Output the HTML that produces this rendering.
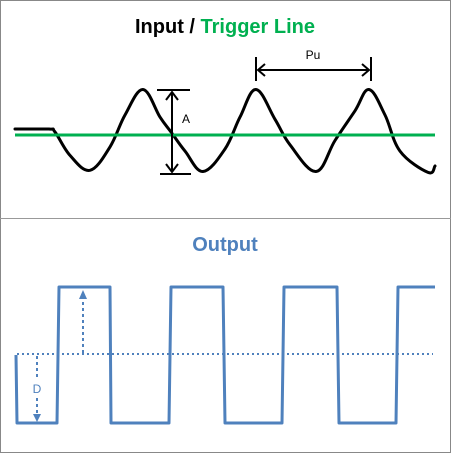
<!DOCTYPE html>
<html><head><meta charset="utf-8"><style>
html,body{margin:0;padding:0;background:#fff;}
svg{display:block;font-family:"Liberation Sans",Calibri,sans-serif;}
</style></head><body>
<svg width="451" height="453" viewBox="0 0 451 453">
<rect x="0.5" y="0.5" width="450" height="452" fill="#fff" stroke="#888"/>
<line x1="0" y1="218.5" x2="451" y2="218.5" stroke="#999"/>
<text x="225" y="33" text-anchor="middle" font-size="20" font-weight="bold"><tspan fill="#000">Input / </tspan><tspan fill="#00b050">Trigger Line</tspan></text>
<text x="225" y="251" text-anchor="middle" font-size="20" font-weight="bold" fill="#4f81bd">Output</text>
<g id="topG"></g>
<g id="botG"></g>
</svg>
<script>
// Input wave: time and signal value (-1..1)
const inTime=[15,49,55,70,90,110,125,143,160,171,185,203,225,240,256,275,290,316,335,355,369,385,400,428,435];
const inVal=[0.07,0.07,0,-0.55,-0.9,-0.35,0.4,1.0,0.35,0,-0.45,-0.93,-0.4,0.35,1.0,0.3,-0.3,-0.93,-0.2,0.5,1.0,0.4,-0.45,-0.95,-0.8];
const triggerLevel=0;
// Output square wave states (1 high, 0 low) at time
const outTime=[16,17,57,59,110,111,169,171,223,225,282,284,337,339,396,398,435];
const outVal=[0.5,0,0,1,1,0,0,1,1,0,0,1,1,0,0,1,1];
const NS="http://www.w3.org/2000/svg";
const yIn=v=>132-v*42.5;
const yOut=v=>423-v*136;
function mk(t,a,p){const e=document.createElementNS(NS,t);for(const k in a)e.setAttribute(k,a[k]);p.appendChild(e);return e;}
const topG=document.getElementById('topG'),botG=document.getElementById('botG');
const P=inTime.map((t,i)=>[t,yIn(inVal[i])]);
let d='M'+P[0][0]+','+P[0][1].toFixed(1)+'L'+P[1][0]+','+P[1][1].toFixed(1);
for(let i=1;i<P.length-1;i++){
  const p0=P[i-1],p1=P[i],p2=P[i+1],p3=P[Math.min(i+2,P.length-1)];
  const k=0.18;
  const c1=[p1[0]+(p2[0]-p0[0])*k,p1[1]+(p2[1]-p0[1])*k];
  const c2=[p2[0]-(p3[0]-p1[0])*k,p2[1]-(p3[1]-p1[1])*k];
  d+='C'+c1[0].toFixed(1)+','+c1[1].toFixed(1)+' '+c2[0].toFixed(1)+','+c2[1].toFixed(1)+' '+p2[0]+','+p2[1].toFixed(1);
}
const wave=mk('path',{d:d,fill:'none',stroke:'#000','stroke-width':3,'stroke-linejoin':'round','stroke-linecap':'round'},topG);


const trig=mk('line',{x1:15,x2:435,y1:yIn(triggerLevel)+3,y2:yIn(triggerLevel)+3,stroke:'#00b050','stroke-width':3},topG);


const amp=mk('g',{stroke:'#000','stroke-width':2,fill:'none'},topG);


mk('line',{x1:157,x2:190,y1:90,y2:90},amp);mk('line',{x1:160,x2:191,y1:174,y2:174},amp);
mk('line',{x1:172,x2:172,y1:92,y2:172},amp);
mk('path',{d:'M166,100L172,92L178,100M166,164L172,172L178,164'},amp);
const al=mk('text',{x:182,y:123,'font-size':12,fill:'#000'},topG);al.textContent='A';


const pu=mk('g',{stroke:'#000','stroke-width':2,fill:'none'},topG);


mk('line',{x1:256,x2:256,y1:57,y2:81},pu);mk('line',{x1:371,x2:371,y1:57,y2:81},pu);
mk('line',{x1:258,x2:369,y1:70,y2:70},pu);
mk('path',{d:'M265,64L258,70L265,76M362,64L369,70L362,76'},pu);
const pl=mk('text',{x:313,y:59,'font-size':12,fill:'#000','text-anchor':'middle'},topG);pl.textContent='Pu';


const mid=mk('line',{x1:17,x2:433,y1:354,y2:354,stroke:'#4f81bd','stroke-width':2,'stroke-dasharray':'2,3'},botG);


d=outTime.map((t,i)=>(i?'L':'M')+t+','+yOut(outVal[i]).toFixed(1)).join('');
const sq=mk('path',{d:d,fill:'none',stroke:'#4f81bd','stroke-width':3,'stroke-linejoin':'round'},botG);


const up=mk('g',{stroke:'#4f81bd','stroke-width':2,fill:'#4f81bd'},botG);


mk('line',{x1:83,x2:83,y1:353,y2:298,'stroke-dasharray':'3,3',fill:'none'},up);
mk('path',{d:'M79,299L83,290L87,299Z',stroke:'none'},up);
const dn=mk('g',{stroke:'#4f81bd','stroke-width':2,fill:'#4f81bd'},botG);


mk('line',{x1:37,x2:37,y1:356,y2:378,'stroke-dasharray':'3,3'},dn);
mk('line',{x1:37,x2:37,y1:398,y2:414,'stroke-dasharray':'3,3'},dn);
mk('path',{d:'M33,414L37,422L41,414Z',stroke:'none'},dn);
const dl=mk('text',{x:37,y:393,'font-size':12,fill:'#4f81bd','text-anchor':'middle'},botG);dl.textContent='D';


</script>
</body></html>
